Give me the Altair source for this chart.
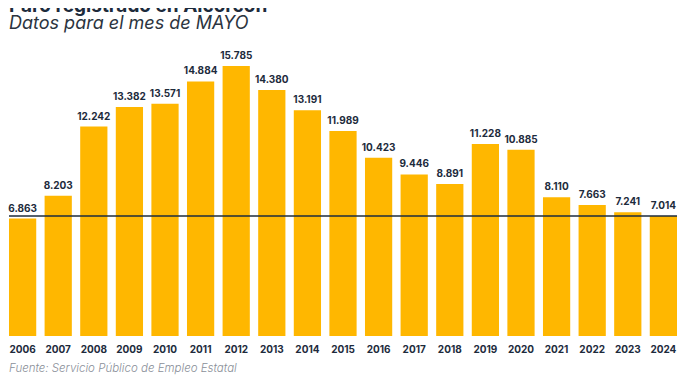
import altair as alt
import pandas as pd

years = ["2006", "2007", "2008", "2009", "2010", "2011", "2012", "2013", "2014", "2015",
         "2016", "2017", "2018", "2019", "2020", "2021", "2022", "2023", "2024"]
values = [6863, 8203, 12242, 13382, 13571, 14884, 15785, 14380, 13191, 11989,
          10423, 9446, 8891, 11228, 10885, 8110, 7663, 7241, 7014]
labels = [f"{v:,}".replace(",", ".") for v in values]
reference_level = values[-1]

title_text = "Paro registrado en Alcorcón"
subtitle_text = "Datos para el mes de MAYO"
source_text = "Fuente: Servicio Público de Empleo Estatal"

df = pd.DataFrame({"year": years, "value": values, "label": labels})
ref_df = pd.DataFrame({"level": [reference_level]})
title_df = pd.DataFrame({"t": [title_text]})
subtitle_df = pd.DataFrame({"t": [subtitle_text]})
source_df = pd.DataFrame({"t": [source_text]})

BAR = "#FFB700"
NAVY = "#1d2b3c"
FONT = "Inter"
YDOM = [0, 19175]

x = alt.X("year:N", sort=years, title=None,
          scale=alt.Scale(paddingInner=0.235, paddingOuter=0),
          axis=alt.Axis(labelAngle=0, ticks=False, domain=False, labelPadding=8,
                        labelFont=FONT, labelFontWeight="bold", labelFontSize=10,
                        labelColor=NAVY, grid=False))
y = alt.Y("value:Q", title=None, scale=alt.Scale(domain=YDOM, nice=False, zero=True),
          axis=None)

base = alt.Chart(df)
bars = base.mark_bar(color=BAR).encode(x=x, y=y)
text = base.mark_text(baseline="bottom", dy=-5, font=FONT, fontWeight="bold",
                      fontSize=10, color=NAVY).encode(x=x, y=y, text="label:N")
rule = alt.Chart(ref_df).mark_rule(color=NAVY, strokeWidth=1.5).encode(
    y=alt.Y("level:Q", scale=alt.Scale(domain=YDOM, nice=False, zero=True), axis=None))

title = alt.Chart(title_df).mark_text(
    align="left", baseline="alphabetic", font=FONT, fontWeight="bold", fontSize=19,
    color=NAVY, clip=True).encode(x=alt.value(0), y=alt.value(4), text="t:N")
subtitle = alt.Chart(subtitle_df).mark_text(
    align="left", baseline="alphabetic", font=FONT, fontStyle="italic", fontWeight=400,
    fontSize=18, color="#2b3440").encode(x=alt.value(0), y=alt.value(21), text="t:N")
source = alt.Chart(source_df).mark_text(
    align="left", baseline="alphabetic", font=FONT, fontStyle="italic", fontWeight=300,
    fontSize=11.5, color="#8a8f99").encode(x=alt.value(0), y=alt.value(364), text="t:N")

chart = alt.layer(bars, rule, text, title, subtitle, source).properties(
    width=668, height=328,
    padding=0,
    background="white",
).configure_view(stroke=None)

chart.save("out.html", embed_options={"renderer": "svg", "actions": False})
